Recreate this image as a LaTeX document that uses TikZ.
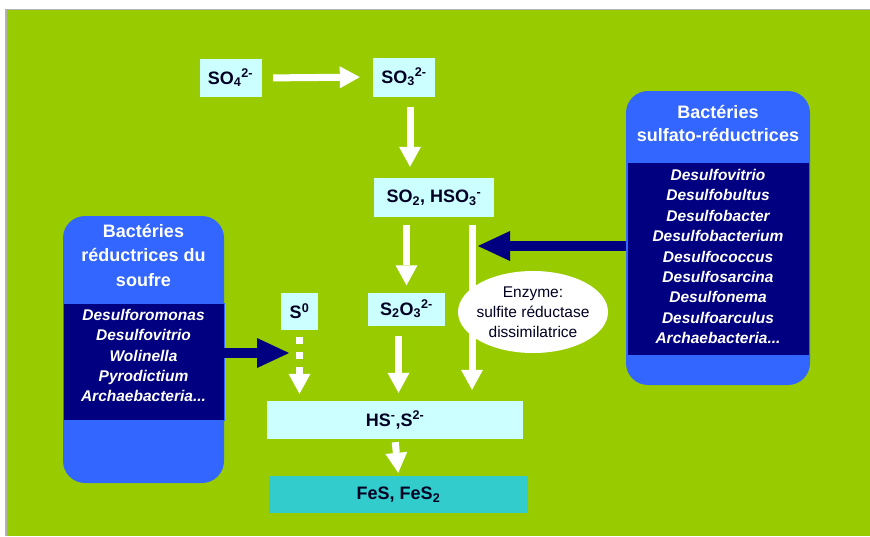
\documentclass[tikz,border=0pt]{standalone}
\usepackage{fontspec}
\setmainfont{Liberation Sans}
\usetikzlibrary{arrows.meta,shapes.geometric}

\definecolor{leaf}{HTML}{99CC00}
\definecolor{paleblue}{HTML}{CCFFFF}
\definecolor{bactblue}{HTML}{3366FF}
\definecolor{bactnavy}{HTML}{000080}
\definecolor{fescolor}{HTML}{33CCCC}
\definecolor{ink}{HTML}{000022}

\tikzset{
  chem/.style={fill=paleblue, text=ink, inner sep=0pt,
    font=\fontsize{18}{20}\selectfont\bfseries},
  flow/.style={draw=white, line width=7pt,
    -{Triangle[length=20pt,width=22pt,line width=0pt]}},
  dotflow/.style={flow, dash pattern=on 7pt off 8pt},
  bactbox/.style={fill=bactblue, rounded corners=22pt, inner sep=0pt},
  bactband/.style={fill=bactnavy, draw=bactblue, line width=1pt, inner sep=0pt},
  bacthead/.style={text=white, align=center,
    font=\fontsize{18}{24.5}\selectfont\bfseries},
  bactlist/.style={text=white, align=center,
    font=\fontsize{15.5}{20.4}\selectfont\bfseries\itshape},
  bactarrow/.style={draw=bactnavy, line width=10pt,
    -{Triangle[length=32pt,width=30pt,line width=0pt]}},
}

\begin{document}
\begin{tikzpicture}[x=1pt,y=-1pt]

% The frame
\useasboundingbox (0,0) rectangle (870,536);
\fill[white] (0,0) rectangle (870,536);
\fill[leaf] (7,10) rectangle (870,536);
\draw[gray!60, line width=1.5pt] (6,536) -- (6,9.5) -- (870,9.5);

% The sulfur compounds
\node[chem, minimum width=62pt, minimum height=38pt] (so4) at (230.5,78) {SO\textsubscript{4}\textsuperscript{2-}};
\node[chem, minimum width=62pt, minimum height=39pt] (so3) at (404,77) {SO\textsubscript{3}\textsuperscript{2-}};
\node[chem, minimum width=120pt, minimum height=39pt] (so2) at (434,197.5) {SO\textsubscript{2}, HSO\textsubscript{3}\textsuperscript{-}};
\node[chem, minimum width=37pt, minimum height=37pt] (s0) at (299.5,311.5) {S\textsuperscript{0}};
\node[chem, minimum width=77pt, minimum height=33pt] (s2o3) at (406.5,309) {S\textsubscript{2}O\textsubscript{3}\textsuperscript{2-}};
\node[chem, minimum width=256pt, minimum height=38pt] (hs) at (395,420) {HS\textsuperscript{-},S\textsuperscript{2-}};
\node[chem, fill=fescolor, minimum width=259pt, minimum height=37pt] (fes) at (398.5,494.5) {FeS, FeS\textsubscript{2}};

% The enzyme
\node[ellipse, fill=white, minimum width=150pt, minimum height=82pt, inner sep=0pt] (enzyme) at (533,312) {};
\node[text=ink, align=center, font=\fontsize{15.5}{20}\selectfont] (enzymetext) at (enzyme)
  {Enzyme:\\sulfite réductase\\dissimilatrice};

% The reduction steps
\draw[flow, shorten <=11.5pt, shorten >=13pt] (so4.east) -- (so3.west);
\draw[flow, shorten <=10pt, shorten >=11pt] ([xshift=6pt]so3.south) -- ([xshift=6pt]so3.south |- so2.north);
\draw[flow, shorten <=8pt, shorten >=7pt] (s2o3.north |- so2.south) -- (s2o3.north);
\draw[flow, shorten <=8pt, shorten >=11pt] ([xshift=38pt]so2.south) -- ([xshift=38pt]so2.south |- hs.north);
\draw[flow, shorten <=10pt, shorten >=8pt] ([xshift=-8pt]s2o3.south) -- ([xshift=-8pt]s2o3.south |- hs.north);
\draw[dotflow, shorten <=7pt, shorten >=7pt] (s0.south) -- (s0.south |- hs.north);
\draw[flow, shorten <=3pt, shorten >=3pt] (hs.south) -- (fes.north);

% The sulfur reducing bacteria
\node[bactbox, minimum width=161pt, minimum height=267pt] (leftbox) at (143.5,349.5) {};
\node[bactband, minimum width=161pt, minimum height=117pt] (leftband) at (143.5,361.5) {};
\node[bacthead] (lefthead) at (143.5,255) {Bactéries\\réductrices du\\soufre};
\node[bactlist] (leftlist) at (143.5,355.5)
  {Desulforomonas\\Desulfovitrio\\Wolinella\\Pyrodictium\\Archaebacteria...};

% The sulfate reducing bacteria
\node[bactbox, minimum width=184pt, minimum height=294pt] (rightbox) at (718,238) {};
\node[bactband, minimum width=182pt, minimum height=193pt] (rightband) at (718,258.5) {};
\node[bacthead, font=\fontsize{18}{23}\selectfont\bfseries] (righthead) at (718,123.5) {Bactéries\\sulfato-réductrices};
\node[bactlist] (rightlist) at (718,256.5)
  {Desulfovitrio\\Desulfobultus\\Desulfobacter\\Desulfobacterium\\Desulfococcus\\Desulfosarcina\\Desulfonema\\Desulfoarculus\\Archaebacteria...};

% The bacteria arrows
\coordinate (lefttip) at (289,353);
\coordinate (righttip) at (478,246);
\draw[bactarrow] (leftbox.east |- lefttip) -- (lefttip);
\draw[bactarrow] (rightbox.west |- righttip) -- (righttip);

\end{tikzpicture}
\end{document}
